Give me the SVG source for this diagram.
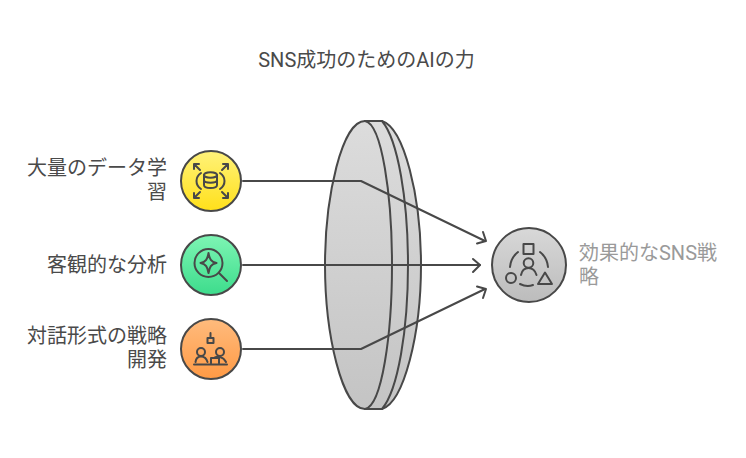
<svg xmlns="http://www.w3.org/2000/svg" width="746" height="458" viewBox="0 0 746 458">
<defs>
<style>
text{font-family:Roboto,"Noto Sans CJK JP",sans-serif;font-size:20px;fill:#4a4a4a}
.o{fill:none;stroke:#484848;stroke-width:2;stroke-linecap:round;stroke-linejoin:round}
.i{fill:none;stroke:#484848;stroke-width:2;stroke-linecap:round;stroke-linejoin:round}
.c{stroke:#484848;stroke-width:2}
.e{fill:url(#g);stroke:#484848;stroke-width:2}
</style>
<linearGradient id="g" x1="0" y1="0" x2="0" y2="1"><stop offset="0" stop-color="#dcdcdc"/><stop offset="1" stop-color="#c4c4c4"/></linearGradient>
<linearGradient id="gy" x1="0" y1="0" x2="0" y2="1"><stop offset="0" stop-color="#fff27a"/><stop offset="1" stop-color="#ffe01a"/></linearGradient>
<linearGradient id="gg" x1="0" y1="0" x2="0" y2="1"><stop offset="0" stop-color="#7ef5b4"/><stop offset="1" stop-color="#3ddc8c"/></linearGradient>
<linearGradient id="go" x1="0" y1="0" x2="0" y2="1"><stop offset="0" stop-color="#ffbb7d"/><stop offset="1" stop-color="#ff9a45"/></linearGradient>
<linearGradient id="gs" x1="0" y1="0" x2="0" y2="1"><stop offset="0" stop-color="#d8d8d8"/><stop offset="1" stop-color="#bcbcbc"/></linearGradient>
</defs>
<text id="title" x="366.500" y="67" text-anchor="middle">SNS成功のためのAIの力</text>
<g id="lens">
<path class="e" d="M365 121H382C404 128 421 196 421 265C421 334 404 402 382 409H365C342 409 325 334 325 265C325 196 342 121 365 121Z"/>
<path class="o" d="M382 121C398 140 408 200 408 265C408 330 398 390 382 409"/>
<path class="o" d="M365 121C382 124 392 196 392 265C392 334 382 406 365 409"/>
</g>
<g id="connectors">
<path class="o" d="M243 181H361L485 241"/>
<path class="o" d="M483 232L486 241L477 243.500"/>
<path class="o" d="M243 265H480"/>
<path class="o" d="M473 259L480 265L473 272"/>
<path class="o" d="M243 349H361L485 289"/>
<path class="o" d="M477 286.500L486 289L483 298"/>
</g>
<g id="node1">
<circle cx="211" cy="181" r="30" fill="url(#gy)" class="c"/>
<g class="i">
<ellipse cx="210.500" cy="175" rx="6.500" ry="2.800"/>
<path d="M204 175V185C204 189 217 189 217 185V175M204 180C204 183.500 217 183.500 217 180"/>
<path d="M201 173C195 177 195 185 201 189M220 173C226 177 226 185 220 189"/>
<path d="M194 164L200 170M194 169V164H199M228 164L222 170M228 169V164H223M194 198L200 192M194 193V198H199M228 198L222 192M228 193V198H223"/>
</g>
</g>
<g id="node2">
<circle cx="211" cy="265" r="30" fill="url(#gg)" class="c"/>
<g class="i">
<circle cx="208.500" cy="263" r="14"/>
<path d="M219 273L227 281"/>
<path d="M208.500 253C209.500 259 211 262 216.500 263C211 264 209.500 267 208.500 273C207.500 267 206 264 200.500 263C206 262 207.500 259 208.500 253Z"/>
</g>
</g>
<g id="node3">
<circle cx="211" cy="349" r="30" fill="url(#go)" class="c"/>
<g class="i">
<path d="M210.500 333V338M207.500 338H213.500V343H207.500Z"/>
<circle cx="201" cy="352" r="4"/>
<circle cx="220" cy="352" r="4"/>
<path d="M195.500 362C196 358.500 198.500 356.500 201 356.500C204 356.500 206.500 358.500 207.500 362M215 357.500C217 356.500 223 356 226 362M194 364.500H227M211 363V358H219V363"/>
</g>
</g>
<g id="node4">
<circle cx="529" cy="265" r="37" fill="url(#gs)" class="c"/>
<g class="i">
<rect x="523.500" y="244" width="10" height="10"/>
<circle cx="528.500" cy="263" r="4.800"/>
<path d="M521 275C522 270 525 268 528.500 268C532 268 535 270 536.500 275"/>
<path d="M518 252C513 256 510.500 261 510 267M540 252C545 256 547.500 261 548 267"/>
<circle cx="511" cy="278" r="5"/>
<path d="M545 272.500L552 284H538Z"/>
<path d="M520 284C524 286 529 286.500 533 285"/>
</g>
</g>
<g id="labels">
<text x="167" y="175" text-anchor="end">大量のデータ学</text>
<text x="167" y="199" text-anchor="end">習</text>
<text x="167" y="272" text-anchor="end">客観的な分析</text>
<text x="167" y="343" text-anchor="end">対話形式の戦略</text>
<text x="167" y="367" text-anchor="end">開発</text>
<text x="579" y="260" style="fill:#9a9a9a">効果的なSNS戦</text>
<text x="579" y="284" style="fill:#9a9a9a">略</text>
</g>
</svg>
